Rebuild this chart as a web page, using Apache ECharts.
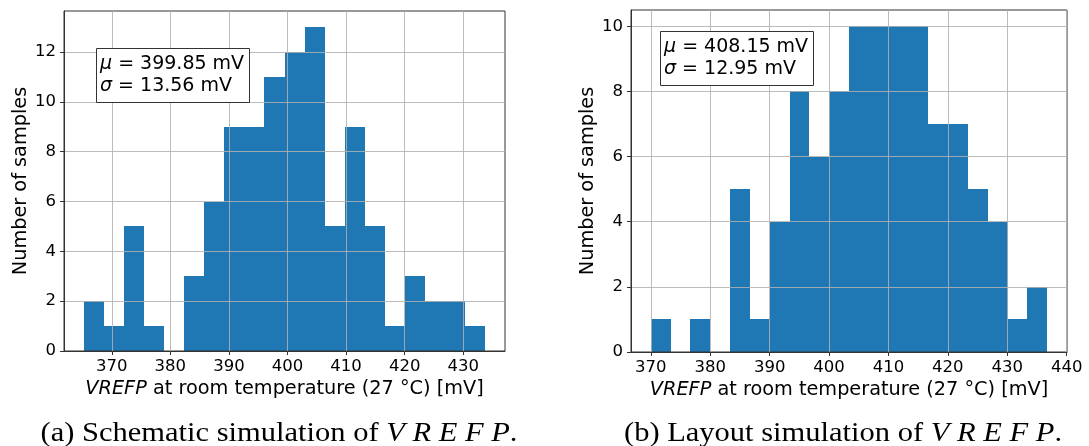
<!DOCTYPE html>
<html>
<head>
<meta charset="utf-8">
<script src="https://cdn.jsdelivr.net/npm/echarts@6/dist/echarts.min.js"></script>
<style>
html,body{margin:0;padding:0;background:#fff;}
#chart{width:1089px;height:446px;}
</style>
</head>
<body>
<div id="chart"></div>
<script>
// ---- data ----
const leftEdges = [365.26, 368.68, 372.11, 375.53, 378.95, 382.37, 385.80, 389.22, 392.64, 396.06, 399.49,
                   402.91, 406.33, 409.75, 413.18, 416.60, 420.02, 423.44, 426.87, 430.29, 433.71];
const leftCounts = [2, 1, 5, 1, 0, 3, 6, 9, 9, 11, 12, 13, 5, 9, 5, 1, 3, 2, 2, 1];

const rightEdges = [370.00, 373.34, 376.67, 380.01, 383.34, 386.68, 390.02, 393.35, 396.69, 400.02, 403.36,
                    406.70, 410.03, 413.37, 416.70, 420.04, 423.38, 426.71, 430.05, 433.38, 436.72];
const rightCounts = [1, 0, 1, 0, 5, 1, 4, 8, 6, 8, 10, 10, 10, 10, 7, 7, 5, 4, 1, 2];

const leftXTicks = [370, 380, 390, 400, 410, 420, 430];
const rightXTicks = [370, 380, 390, 400, 410, 420, 430, 440];
const leftYTicks = [0, 2, 4, 6, 8, 10, 12];
const rightYTicks = [0, 2, 4, 6, 8, 10];

const leftStats = { mu: '399.85', sigma: '13.56' };
const rightStats = { mu: '408.15', sigma: '12.95' };

const xTitle = '{i|VREFP} at room temperature (27 °C) [mV]';
const yTitle = 'Number of samples';
const captionA = '(a) Schematic simulation of {i|V R E F P}.';
const captionB = '(b) Layout simulation of {i|V R E F P}.';

// ---- build ----
function histData(edges, counts) {
  return counts.map((c, i) => [edges[i], edges[i + 1], c]);
}
const SANS = '"DejaVu Sans", sans-serif';
const SERIF = '"Liberation Serif", "DejaVu Serif", serif';
const BLUE = '#1f77b4';
const FRAME = '#333333';
const TICK_FS = 16.5;
const TITLE_FS = 19.3;

function renderBar(params, api) {
  const c = api.value(2);
  if (!c) return null;
  const p0 = api.coord([api.value(0), c]);
  const p1 = api.coord([api.value(1), 0]);
  const x0 = Math.round(p0[0]), x1 = Math.round(p1[0]);
  const y0 = Math.round(p0[1]), y1 = p1[1];
  return {
    type: 'rect',
    shape: { x: x0, y: y0, width: x1 - x0, height: y1 - y0 },
    style: { fill: BLUE }
  };
}

function xAxisCfg(gridIndex, min, max, ticks) {
  return {
    type: 'value', gridIndex, min, max,
    name: xTitle, nameLocation: 'middle', nameGap: 26,
    nameTextStyle: { fontFamily: SANS, fontSize: TITLE_FS, color: '#000',
      rich: { i: { fontFamily: SANS, fontSize: TITLE_FS, fontStyle: 'italic', color: '#000' } } },
    axisLine: { show: true, onZero: false, lineStyle: { color: FRAME, width: 1 } },
    axisTick: { show: true, length: 4, customValues: ticks, lineStyle: { color: FRAME } },
    axisLabel: { customValues: ticks, margin: 7, fontFamily: SANS, fontSize: TICK_FS, color: '#000',
      formatter: v => String(Math.round(v)) },
    splitLine: { show: true, lineStyle: { color: '#b0b0b0', width: 1, opacity: 0.85 } }
  };
}
function yAxisCfg(gridIndex, max, ticks) {
  return {
    type: 'value', gridIndex, min: 0, max,
    name: yTitle, nameLocation: 'middle', nameGap: 34,
    nameTextStyle: { fontFamily: SANS, fontSize: TITLE_FS, color: '#000' },
    axisLine: { show: true, lineStyle: { color: FRAME, width: 1 } },
    axisTick: { show: true, length: 4, customValues: ticks, lineStyle: { color: FRAME } },
    axisLabel: { customValues: ticks, margin: 8, fontFamily: SANS, fontSize: TICK_FS, color: '#000',
      formatter: v => String(Math.round(v)) },
    splitLine: { show: true, lineStyle: { color: '#b0b0b0', width: 1, opacity: 0.85 } }
  };
}
function statBox(left, top, s) {
  return {
    left, top,
    text: '{i|μ} = ' + s.mu + ' mV\n{i|σ} = ' + s.sigma + ' mV',
    padding: [5, 6, 6, 4],
    borderColor: FRAME, borderWidth: 1, backgroundColor: '#fff',
    textStyle: { fontFamily: SANS, fontSize: 19, fontWeight: 'normal', color: '#000', lineHeight: 22,
      rich: { i: { fontFamily: SANS, fontSize: 19, fontStyle: 'italic', color: '#000', lineHeight: 22 } } }
  };
}
function caption(centerX, s) {
  return {
    type: 'text', x: centerX, y: 434, scaleX: 1.13,
    style: {
      text: s, textAlign: 'center', textVerticalAlign: 'middle',
      font: '27px "Liberation Serif", serif', fill: '#000',
      rich: { i: { fontFamily: SERIF, fontSize: 27, fontStyle: 'italic', fill: '#000', color: '#000' } }
    }
  };
}

const option = {
  animation: false,
  backgroundColor: '#fff',
  title: [
    statBox(96, 48, leftStats),
    statBox(660, 31, rightStats)
  ],
  graphic: [
    caption(279, captionA),
    caption(843, captionB)
  ],
  grid: [
    { left: 64, top: 11, width: 441, height: 340, show: true, borderColor: FRAME, borderWidth: 1, backgroundColor: 'transparent' },
    { left: 631, top: 10, width: 436, height: 342, show: true, borderColor: FRAME, borderWidth: 1, backgroundColor: 'transparent' }
  ],
  xAxis: [
    xAxisCfg(0, 361.84, 437.13, leftXTicks),
    xAxisCfg(1, 366.66, 440.06, rightXTicks)
  ],
  yAxis: [
    yAxisCfg(0, 13.65, leftYTicks),
    yAxisCfg(1, 10.5, rightYTicks)
  ],
  series: [
    { type: 'custom', xAxisIndex: 0, yAxisIndex: 0, z: -1, renderItem: renderBar,
      encode: { x: [0, 1], y: 2 }, data: histData(leftEdges, leftCounts) },
    { type: 'custom', xAxisIndex: 1, yAxisIndex: 1, z: -1, renderItem: renderBar,
      encode: { x: [0, 1], y: 2 }, data: histData(rightEdges, rightCounts) }
  ]
};

const chart = echarts.init(document.getElementById('chart'), null, { renderer: 'canvas' });
chart.setOption(option);
</script>
</body>
</html>
